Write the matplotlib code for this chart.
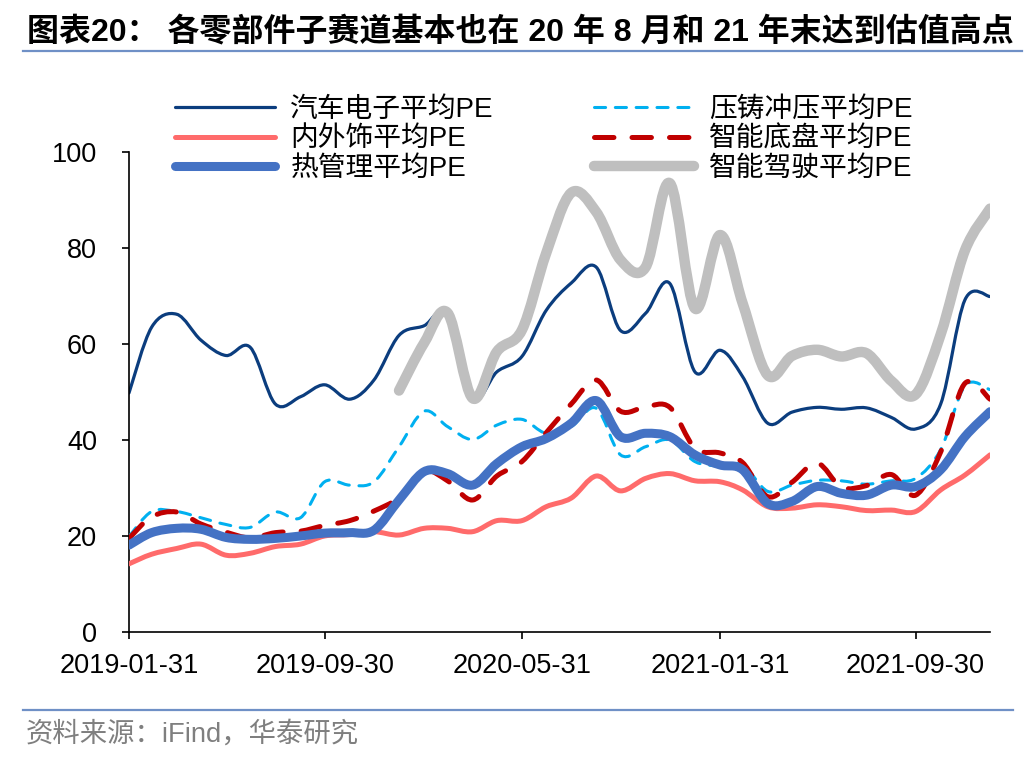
import numpy as np
import pandas as pd
import matplotlib
matplotlib.use('Agg')
import matplotlib.pyplot as plt
import matplotlib.dates as mdates
from matplotlib.path import Path
from matplotlib.patches import PathPatch
from matplotlib.lines import Line2D

plt.rcParams['font.family'] = ['Liberation Sans', 'Noto Sans CJK SC']
plt.rcParams['lines.scale_dashes'] = False

# monthly PE, 2019-01 .. 2021-12
dates = pd.date_range('2019-01-31', '2021-12-31', freq='ME')
tick_dates = ['2019-01-31', '2019-09-30', '2020-05-31', '2021-01-31', '2021-09-30']

auto_elec = [49.8, 63.5, 66.2, 60.8, 57.6, 59.3, 47.5, 49.0, 51.5, 48.5, 52.5, 61.8,
             63.8, 66.3, 48.7, 54.2, 57.4, 67.0, 72.7, 76.0, 62.8, 66.4, 72.6, 54.2,
             58.7, 53.2, 43.5, 45.8, 46.8, 46.4, 46.7, 44.7, 42.3, 47.5, 69.2, 69.9]
die_cast = [19.9, 25.1, 25.1, 23.8, 22.4, 21.8, 25.0, 23.8, 31.3, 30.6, 31.3, 38.6,
            46.0, 42.8, 40.1, 43.1, 44.3, 41.4, 42.8, 46.6, 36.9, 38.6, 40.0, 35.5,
            34.6, 34.8, 29.3, 30.6, 31.6, 31.5, 30.8, 31.5, 32.0, 38.0, 51.3, 50.5]
interior = [14.2, 16.2, 17.4, 18.3, 16.0, 16.4, 17.8, 18.3, 20.0, 20.3, 20.9, 20.2,
            21.6, 21.6, 20.9, 23.2, 23.2, 26.1, 27.9, 32.5, 29.4, 32.0, 33.0, 31.5,
            31.3, 29.6, 26.1, 25.8, 26.5, 26.1, 25.3, 25.4, 25.1, 29.6, 32.7, 36.9]
chassis = [19.5, 24.0, 25.0, 22.5, 20.8, 19.6, 20.7, 21.0, 22.2, 23.2, 25.2, 28.0,
           33.5, 31.5, 27.5, 32.5, 35.5, 41.5, 47.5, 52.5, 46.0, 46.9, 46.8, 38.3,
           37.3, 35.3, 28.2, 31.2, 35.2, 30.2, 30.5, 32.8, 28.5, 37.5, 51.8, 48.5]
thermal = [18.1, 20.7, 21.6, 21.4, 19.7, 19.3, 19.5, 20.0, 20.6, 20.7, 21.2, 27.5,
           33.4, 33.0, 30.6, 35.1, 38.6, 40.3, 43.5, 48.2, 40.7, 41.4, 40.7, 36.9,
           34.8, 33.8, 26.8, 27.2, 30.3, 28.9, 28.5, 30.6, 30.3, 33.8, 40.7, 45.9]
adas = [np.nan] * 11 + [50.3, 60.2, 66.5, 48.7, 58.4, 62.9, 78.9, 91.5, 87.5, 77.5,
                        76.0, 93.5, 67.4, 82.7, 68.5, 53.5, 57.5, 58.8, 57.4, 58.1,
                        52.3, 49.5, 62.0, 79.5, 88.2]

labels = ['汽车电子平均PE', '压铸冲压平均PE', '内外饰平均PE',
          '智能底盘平均PE', '热管理平均PE', '智能驾驶平均PE']
values = [auto_elec, die_cast, interior, chassis, thermal, adas]
colors = ['#0b3d7e', '#00b0f0', '#ff6b6b', '#c00000', '#4472c4', '#bfbfbf']
widths = [2.3, 2.2, 3.6, 3.6, 6.5, 7.5]
styles = ['-', (0, (8, 7)), '-', (0, (14, 13)), '-', '-']


def smooth_path(x, y):
    # excel style smoothed line, one cubic bezier per segment
    pts = np.column_stack([x, y])
    n = len(pts)
    verts = [pts[0]]
    codes = [Path.MOVETO]
    for i in range(n - 1):
        p0 = pts[max(i - 1, 0)]
        p1 = pts[i]
        p2 = pts[i + 1]
        p3 = pts[min(i + 2, n - 1)]
        verts += [p1 + (p2 - p0) / 6, p2 - (p3 - p1) / 6, p2]
        codes += [Path.CURVE4] * 3
    return Path(verts, codes)


fig = plt.figure(figsize=(10.36, 7.6), dpi=100)
ax = fig.add_axes([129 / 1036, 128 / 760, 861 / 1036, 480 / 760])

xnum = mdates.date2num(dates)
handles = {}
for k, (lab, v, c, lw, ls) in enumerate(zip(labels, values, colors, widths, styles)):
    v = np.asarray(v, dtype=float)
    ok = ~np.isnan(v)
    patch = PathPatch(smooth_path(xnum[ok], v[ok]), fill=False, edgecolor=c, lw=lw,
                      linestyle=ls, capstyle='round', joinstyle='round', zorder=2 + k)
    ax.add_patch(patch)
    handles[lab] = Line2D([], [], color=c, lw=lw, linestyle=ls,
                          dash_capstyle='round', solid_capstyle='round')

ax.set_xlim(xnum[0], xnum[-1])
ax.set_ylim(0, 100)
ax.set_yticks(range(0, 101, 20))
ax.set_xticks(mdates.date2num(pd.to_datetime(tick_dates)))
ax.set_xticklabels(tick_dates)

for s in ['top', 'right']:
    ax.spines[s].set_visible(False)
for s in ['left', 'bottom']:
    ax.spines[s].set_linewidth(1.2)
    ax.spines[s].set_color('black')
ax.tick_params(axis='both', direction='out', length=5, width=1.2, labelsize=19.5)
ax.tick_params(axis='y', pad=18)
ax.tick_params(axis='x', pad=10)

# legend laid out row-wise like the original
order = ['汽车电子平均PE', '内外饰平均PE', '热管理平均PE',
         '压铸冲压平均PE', '智能底盘平均PE', '智能驾驶平均PE']
fig.legend([handles[o] for o in order], order, ncol=2, loc='upper left',
           bbox_to_anchor=(175 / 1036, 1 - 97 / 760), frameon=False, fontsize=20,
           handlelength=3.6, handletextpad=0.55, columnspacing=3.6,
           labelspacing=0.12, borderpad=0, borderaxespad=0)

fig.text(27 / 1036, 1 - 32 / 760, '图表20： 各零部件子赛道基本也在 20 年 8 月和 21 年末达到估值高点',
         fontsize=23, fontweight='bold', va='center', ha='left')
fig.text(26 / 1036, 1 - 734 / 760, '资料来源：iFind，华泰研究', fontsize=19.7,
         color='#7f7f7f', va='center', ha='left')
fig.add_artist(Line2D([23 / 1036, 1022 / 1036], [1 - 51 / 760] * 2, color='#6f90c6', lw=1.6))
fig.add_artist(Line2D([23 / 1036, 1013 / 1036], [1 - 710 / 760] * 2, color='#6f90c6', lw=1.6))

fig.savefig('out.png', dpi=100)
